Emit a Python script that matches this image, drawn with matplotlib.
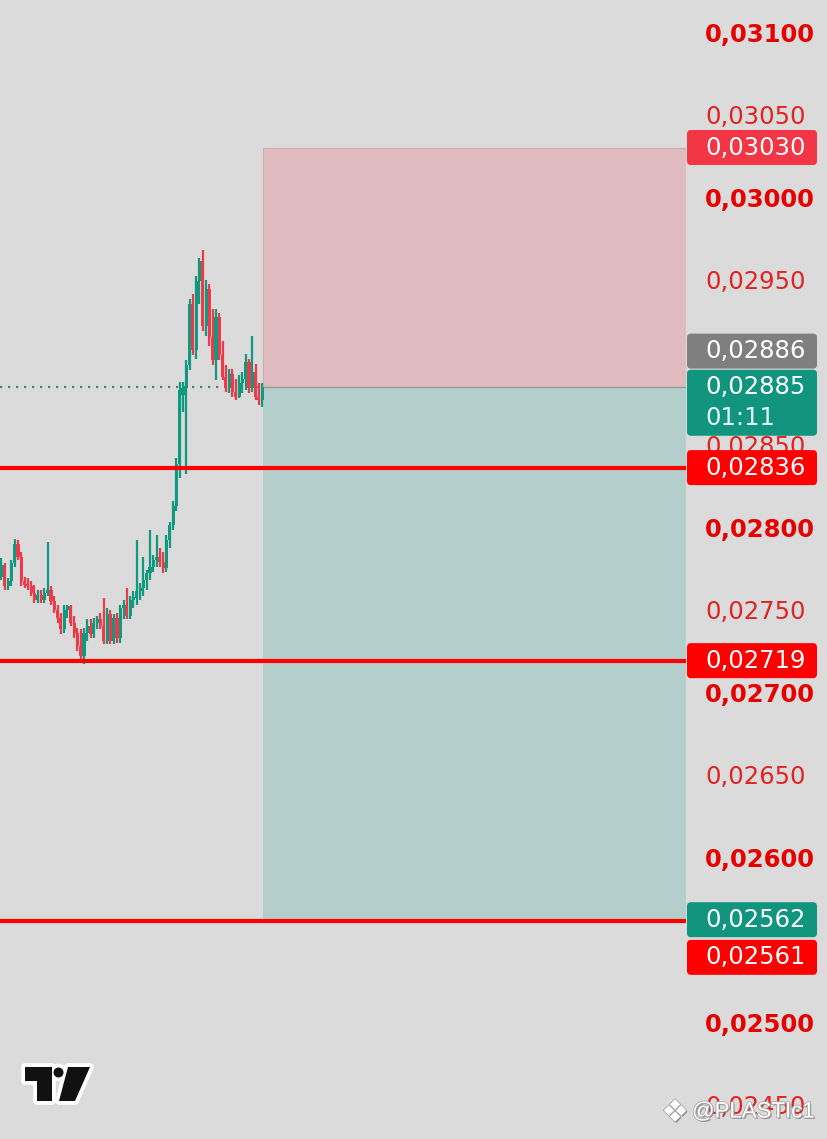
import matplotlib
matplotlib.use("Agg")
import matplotlib.pyplot as plt
from matplotlib.patches import Rectangle, FancyBboxPatch, Circle, Polygon
from matplotlib.transforms import IdentityTransform
import matplotlib.patheffects as pe

# ---------------- data ----------------
opens = [0.02770, 0.02777, 0.02764, 0.02767, 0.02778, 0.02790, 0.02782, 0.02767, 0.02765, 0.02764,
         0.02760, 0.02756, 0.02759, 0.02756, 0.02760, 0.02762, 0.02755, 0.02750, 0.02745, 0.02738,
         0.02750, 0.02752, 0.02742, 0.02736, 0.02728, 0.02722, 0.02736, 0.02740, 0.02735, 0.02742,
         0.02744, 0.02740, 0.02731, 0.02747, 0.02731, 0.02745, 0.02733, 0.02751, 0.02753, 0.02746,
         0.02756, 0.02757, 0.02761, 0.02763, 0.02768, 0.02772, 0.02776, 0.02780, 0.02782, 0.02779,
         0.02775, 0.02792, 0.02801, 0.02813, 0.02838, 0.02880, 0.02884, 0.02898, 0.02935, 0.02907,
         0.02949, 0.02961, 0.02922, 0.02944, 0.02915, 0.02901, 0.02927, 0.02904, 0.02891, 0.02884,
         0.02893, 0.02882, 0.02879, 0.02887, 0.02890, 0.02900, 0.02884, 0.02894, 0.02879, 0.02877]
highs = [0.02781, 0.02778, 0.02769, 0.02780, 0.02793, 0.02792, 0.02785, 0.02770, 0.02769, 0.02767,
         0.02765, 0.02762, 0.02762, 0.02763, 0.02791, 0.02764, 0.02758, 0.02753, 0.02748, 0.02753,
         0.02753, 0.02753, 0.02746, 0.02739, 0.02738, 0.02739, 0.02744, 0.02744, 0.02745, 0.02746,
         0.02748, 0.02757, 0.02751, 0.02750, 0.02747, 0.02748, 0.02753, 0.02756, 0.02763, 0.02758,
         0.02761, 0.02792, 0.02766, 0.02782, 0.02774, 0.02798, 0.02783, 0.02795, 0.02787, 0.02785,
         0.02795, 0.02803, 0.02816, 0.02842, 0.02888, 0.02888, 0.02901, 0.02938, 0.02941, 0.02952,
         0.02963, 0.02968, 0.02950, 0.02947, 0.02932, 0.02932, 0.02930, 0.02913, 0.02898, 0.02896,
         0.02896, 0.02890, 0.02892, 0.02894, 0.02905, 0.02902, 0.02916, 0.02899, 0.02887, 0.02887]
lows = [0.02768, 0.02762, 0.02762, 0.02764, 0.02776, 0.02780, 0.02764, 0.02763, 0.02762, 0.02758,
        0.02754, 0.02754, 0.02754, 0.02754, 0.02758, 0.02753, 0.02748, 0.02742, 0.02735, 0.02736,
        0.02745, 0.02740, 0.02733, 0.02725, 0.02719, 0.02717, 0.02731, 0.02733, 0.02733, 0.02738,
        0.02738, 0.02729, 0.02729, 0.02729, 0.02729, 0.02730, 0.02730, 0.02744, 0.02744, 0.02744,
        0.02751, 0.02753, 0.02756, 0.02758, 0.02762, 0.02768, 0.02773, 0.02776, 0.02776, 0.02772,
        0.02773, 0.02787, 0.02798, 0.02810, 0.02830, 0.02870, 0.02832, 0.02895, 0.02904, 0.02902,
        0.02935, 0.02919, 0.02916, 0.02910, 0.02898, 0.02889, 0.02901, 0.02889, 0.02882, 0.02881,
        0.02879, 0.02877, 0.02878, 0.02881, 0.02883, 0.02881, 0.02882, 0.02877, 0.02874, 0.02873]
closes = [0.02777, 0.02764, 0.02767, 0.02778, 0.02790, 0.02782, 0.02767, 0.02765, 0.02764, 0.02760,
          0.02756, 0.02759, 0.02756, 0.02760, 0.02762, 0.02755, 0.02750, 0.02745, 0.02738, 0.02750,
          0.02752, 0.02742, 0.02736, 0.02728, 0.02722, 0.02736, 0.02740, 0.02735, 0.02742, 0.02744,
          0.02740, 0.02731, 0.02747, 0.02731, 0.02745, 0.02733, 0.02751, 0.02753, 0.02746, 0.02756,
          0.02757, 0.02761, 0.02763, 0.02768, 0.02772, 0.02776, 0.02780, 0.02782, 0.02779, 0.02775,
          0.02792, 0.02801, 0.02813, 0.02838, 0.02883, 0.02884, 0.02898, 0.02935, 0.02907, 0.02949,
          0.02961, 0.02922, 0.02944, 0.02915, 0.02901, 0.02927, 0.02904, 0.02891, 0.02884, 0.02893,
          0.02882, 0.02879, 0.02887, 0.02890, 0.02900, 0.02884, 0.02894, 0.02879, 0.02877, 0.02885]

support_levels = [0.02836, 0.02719, 0.02561]
entry_price = 0.02885
stop_price = 0.03030
target_price = 0.02562

tick_values = [0.03100, 0.03050, 0.03000, 0.02950, 0.02850, 0.02800, 0.02750,
               0.02700, 0.02650, 0.02600, 0.02500, 0.02450]

label_values = [0.03030, 0.02886, 0.02885, 0.02836, 0.02719, 0.02562, 0.02561]
label_colors = ['#F23645', '#7F7F7F', '#11957F', '#FF0000', '#FF0000', '#11957F', '#FF0000']
label_shift_px = [0, -34, 0, 0, 0, 0, 36]
countdown = "01:11"
watermark = "@PLASTIc1"

# ---------------- layout ----------------
W, H = 828, 1139
BG = '#DBDBDB'
UP, DOWN = '#0F9A80', '#EE3A48'
plot_right_px = 686
cand_step_px = 3.3
first_px = 1.5

fig = plt.figure(figsize=(W / 100, H / 100), dpi=100, facecolor=BG)
ax = fig.add_axes([0, 0, plot_right_px / W, 1])
ax.set_facecolor(BG)
for s in ax.spines.values():
    s.set_visible(False)

ax.set_ylim(0.031 - (H - 32) / 165000, 0.031 + 32 / 165000)
ax.set_xlim(-first_px / cand_step_px, (plot_right_px - first_px) / cand_step_px)
box_left = (263 - first_px) / cand_step_px
x_right = ax.get_xlim()[1]

# position zones
ax.add_patch(Rectangle((box_left, entry_price), x_right - box_left, stop_price - entry_price,
                       facecolor='#E0BBBF', edgecolor='#D4A9AE', lw=0.8, zorder=1))
ax.add_patch(Rectangle((box_left, target_price), x_right - box_left, entry_price - target_price,
                       facecolor='#B4CFCB', edgecolor='none', zorder=1))
ax.hlines(entry_price, box_left, x_right, color='#8A9C98', lw=0.9, zorder=1.5)

# dotted current price line
ax.hlines(entry_price, ax.get_xlim()[0], box_left, color='#4F8078', lw=1.6,
          linestyles=(0, (1.0, 2.6)), zorder=2)

# candles
xs = list(range(len(closes)))
cols = [UP if c >= o else DOWN for o, c in zip(opens, closes)]
ax.vlines(xs, lows, highs, colors=cols, lw=1.6, zorder=3)
bottoms = [min(o, c) for o, c in zip(opens, closes)]
heights = [max(abs(c - o), 0.000014) for o, c in zip(opens, closes)]
ax.bar(xs, heights, bottom=bottoms, width=0.92, color=cols, linewidth=0, zorder=3)

# support lines
for lv in support_levels:
    ax.axhline(lv, color='#FF0000', lw=3.0, zorder=4)

# price axis labels
ax.xaxis.set_visible(False)
ax.yaxis.tick_right()
ax.set_yticks(tick_values)
ax.set_yticklabels([f"{v:.5f}".replace('.', ',') for v in tick_values])
ax.tick_params(axis='y', length=0, pad=13.7, labelsize=17.5)
for v, lbl in zip(tick_values, ax.get_yticklabels()):
    major = abs(v * 1000 - round(v * 1000)) < 1e-6
    lbl.set_fontweight('bold' if major else 'normal')
    lbl.set_color('#E60000' if major else '#E32222')
    lbl.set_fontfamily('DejaVu Sans')

# label boxes (display pixel coordinates)
ident = IdentityTransform()
for v, col, sh in zip(label_values, label_colors, label_shift_px):
    yd = ax.transData.transform((0, v))[1] - sh
    txt = f"{v:.5f}".replace('.', ',')
    if v == entry_price:
        y0, hgt = yd - 49, 66
    else:
        y0, hgt = yd - 17.5, 35
    ax.add_patch(FancyBboxPatch((687, y0), 130, hgt, boxstyle='round,pad=0,rounding_size=4',
                                facecolor=col, edgecolor='none', transform=ident,
                                clip_on=False, zorder=6))
    ax.text(705, yd, txt, transform=ident, color='white', fontsize=17.5,
            va='center', ha='left', zorder=7, clip_on=False)
    if v == entry_price:
        ax.text(705, yd - 31, countdown, transform=ident, color='#E6FFF6', fontsize=17.5,
                va='center', ha='left', zorder=7, clip_on=False)

# TradingView logo (white sticker outline, black glyph)
def py(y):
    return H - y

logo_shapes = [
    lambda **kw: Polygon([(25, py(1067)), (52, py(1067)), (52, py(1101)), (37, py(1101)),
                          (37, py(1081)), (25, py(1081))], closed=True, **kw),
    lambda **kw: Circle((58.5, py(1072.5)), 5.0, **kw),
    lambda **kw: Polygon([(68, py(1067)), (90, py(1067)), (75, py(1101)), (59, py(1101))],
                         closed=True, **kw),
]
for mk in logo_shapes:
    ax.add_patch(mk(facecolor='white', edgecolor='white', lw=5.5, joinstyle='round',
                    transform=ident, clip_on=False, zorder=8))
for mk in logo_shapes:
    ax.add_patch(mk(facecolor='#111111', edgecolor='none', transform=ident,
                    clip_on=False, zorder=9))

# watermark
wm_fx = [pe.withSimplePatchShadow(offset=(1, -1), shadow_rgbFace='#7A7A7A', alpha=0.8),
         pe.withStroke(linewidth=1.2, foreground='#A8A8A8')]
ax.text(675, py(1113), '\u2756', transform=ident, color='white', fontsize=22,
        va='center', ha='center', zorder=10, path_effects=wm_fx, clip_on=False)
ax.text(692, py(1112), watermark, transform=ident, color='white', fontsize=16,
        family='Liberation Sans', va='center', ha='left', zorder=10,
        path_effects=wm_fx, clip_on=False)

fig.savefig('out.png', dpi=100, facecolor=BG)
